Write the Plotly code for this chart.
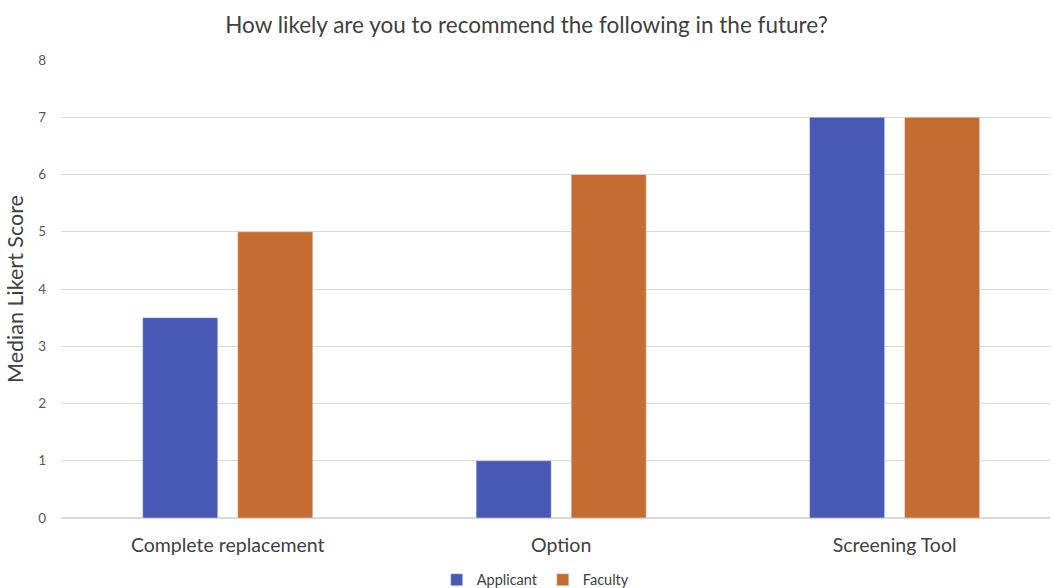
import plotly.graph_objects as go

categories = ["Complete replacement", "Option", "Screening Tool"]
applicant = [3.5, 1, 7]
faculty = [5, 6, 7]
y_ticks = [0, 1, 2, 3, 4, 5, 6, 7, 8]

FONT = "Lato"
fig = go.Figure()
fig.add_trace(go.Bar(name="Applicant", x=categories, y=applicant, marker_color="#4858B5"))
fig.add_trace(go.Bar(name="Faculty", x=categories, y=faculty, marker_color="#C46C31"))

fig.update_layout(
    width=1053, height=588,
    margin=dict(l=61, r=3, t=60, b=70, autoexpand=False),
    paper_bgcolor="white", plot_bgcolor="white",
    barmode="group", bargap=0.43, bargroupgap=0.21,
    font=dict(family=FONT, color="#595959"),
    title=dict(text="How likely are you to recommend the following in the future?",
               x=0.5, xanchor="center", y=0.958, yanchor="middle",
               font=dict(size=22.5, color="#404040", family=FONT)),
    legend=dict(orientation="h", x=0.48, xanchor="center", y=-0.135, yanchor="middle",
                font=dict(size=14.5, color="#404040", family=FONT), itemwidth=30,
                traceorder="normal"),
    xaxis=dict(range=[-0.5, 2.466], tickfont=dict(size=19.5, color="#404040"),
               showgrid=False, showline=False, ticks="", ticklabelstandoff=13,
               automargin=False),
    yaxis=dict(range=[0, 8], tickvals=y_ticks, showgrid=True, gridcolor="#D9D9D9",
               zeroline=True, zerolinecolor="#D9D9D9", tickfont=dict(size=13.5, color="#595959"),
               ticks="", ticklabelstandoff=14, automargin=False,
               title=dict(text="Median Likert Score", font=dict(size=21.5, color="#404040"), standoff=8)),
)
fig.write_html("out.html")
